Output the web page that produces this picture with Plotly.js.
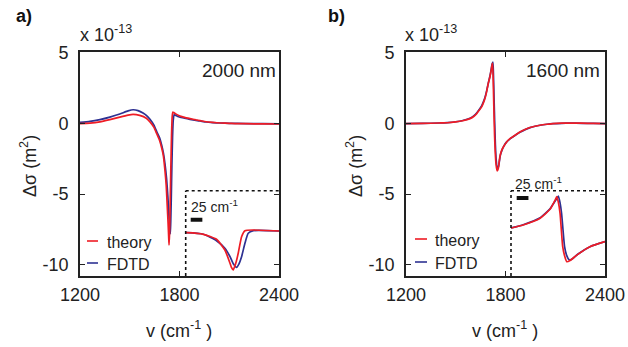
<!DOCTYPE html>
<html>
<head>
<meta charset="utf-8">
<script src="https://cdn.plot.ly/plotly-3.0.1.min.js"></script>
<style>html,body{margin:0;padding:0;background:#fff}#plot{width:628px;height:347px}</style>
</head>
<body>
<div id="plot"></div>
<script>
// ---------- Panel a (2000 nm) main curves ----------
const aTheoryX = [1200,1260,1320,1380,1440,1490,1520,1560,1600,1622,1645,1662,1680,1693,1703,1713,1720,1726,1731,1735,1737,1740,1744,1748,1752,1756,1760,1765,1780,1803,1830,1863,1900,1924,1960,2000,2050,2100,2135,2200,2300,2400];
const aTheoryY = [0.0,0.03,0.12,0.28,0.46,0.6,0.65,0.58,0.38,0.12,-0.25,-0.7,-1.2,-1.75,-2.3,-3.4,-4.4,-5.8,-7.0,-8.1,-8.6,-7.8,-5.5,-3.0,-0.8,0.5,0.82,0.78,0.67,0.54,0.44,0.35,0.26,0.21,0.13,0.08,0.04,0.02,0.0,-0.01,-0.02,-0.03];
const aFdtdX = [1200,1260,1320,1380,1440,1490,1520,1550,1580,1600,1622,1645,1662,1680,1693,1703,1713,1722,1730,1736,1741,1744.5,1747,1750,1754,1758,1762,1768,1775,1790,1803,1830,1863,1900,1924,1960,2000,2044,2100,2200,2300,2400];
const aFdtdY = [0.08,0.15,0.28,0.46,0.68,0.9,0.98,0.92,0.75,0.58,0.3,-0.1,-0.55,-1.0,-1.55,-2.1,-2.9,-3.9,-5.2,-6.5,-7.5,-7.8,-7.0,-5.5,-3.0,-1.0,0.2,0.62,0.6,0.5,0.45,0.38,0.3,0.22,0.18,0.11,0.07,0.04,0.02,0.0,-0.01,-0.02];

// ---------- Panel b (1600 nm) main curves ----------
const bTheoryX = [1200,1300,1400,1450,1500,1542,1586,1610,1626,1645,1656,1666,1676,1686,1696,1706,1714,1719,1722,1726,1730,1734,1738,1743,1750,1756,1762,1767,1777,1787,1807,1827,1857,1887,1918,1948,1978,2008,2050,2086,2140,2189,2260,2330,2400];
const bTheoryY = [0.0,0.01,0.04,0.06,0.12,0.2,0.35,0.52,0.7,1.0,1.18,1.45,1.77,2.25,2.84,3.3,3.8,4.15,4.26,3.0,1.0,-0.8,-2.0,-2.9,-3.36,-3.2,-2.7,-2.3,-1.9,-1.66,-1.3,-1.07,-0.83,-0.6,-0.42,-0.28,-0.19,-0.12,-0.05,0.0,0.03,0.04,0.03,0.01,0.0];
const bFdtdX = [1200,1300,1400,1450,1500,1542,1586,1610,1626,1645,1656,1666,1676,1686,1696,1706,1714,1719,1724,1727,1731,1735,1739,1744,1749,1753,1758,1764,1770,1780,1790,1807,1827,1857,1887,1918,1948,1978,2008,2050,2086,2140,2189,2260,2330,2400];
const bFdtdY = [0.0,0.01,0.04,0.07,0.13,0.22,0.38,0.56,0.75,1.05,1.25,1.52,1.85,2.3,2.85,3.35,3.85,4.2,4.35,3.6,1.8,0.0,-1.5,-2.6,-3.1,-3.2,-3.05,-2.6,-2.2,-1.85,-1.6,-1.3,-1.08,-0.84,-0.62,-0.43,-0.29,-0.19,-0.12,-0.05,-0.01,0.02,0.03,0.02,0.01,0.0];

// ---------- Insets (relative cm^-1, arbitrary units) ----------
const aInsetTheoryX = [0,2,38,66,84,95,98,102,105.5,108.7,112.6,119.8,127,145,200];
const aInsetTheoryY = [0,0,-0.043,-0.177,-0.464,-0.82,-0.93,-1.0,-0.89,-0.76,-0.55,-0.107,0.054,0.072,0.046];
const aInsetFdtdX = [0,2,38,66,84,95,102.3,109.1,114,119.8,127,134,145,200];
const aInsetFdtdY = [0,0,-0.043,-0.214,-0.418,-0.643,-0.84,-0.928,-0.84,-0.643,-0.284,-0.016,0.054,0.046];
const bInsetTheoryX = [0,26,62,83,94,97.3,101,104.4,110,114,118.6,125.7,140,168,200];
const bInsetTheoryY = [0.126,0.206,0.386,0.627,0.877,0.965,0.8,0.52,-0.375,-0.62,-0.777,-0.745,-0.6,-0.375,-0.24];
const bInsetFdtdX = [0,26,62,83,96,100.7,104.4,107.6,114,118.2,124.2,130,142.7,168,200];
const bInsetFdtdY = [0.126,0.215,0.4,0.64,0.89,0.984,0.8,0.52,-0.375,-0.6,-0.73,-0.705,-0.57,-0.375,-0.24];

const xTicks = [1200, 1800, 2400];
const yTicks = [-10, -5, 0, 5];
const seriesNames = ['theory', 'FDTD'];

const RED = '#ee1c25', BLUE = '#2e3192';
const FONT = 'Liberation Sans, Arial, sans-serif';
const W = 628, H = 347;
const px = v => v / W;
const py = v => 1 - v / H;

function tr(x, y, color, xa, ya, name) {
  return {x, y, type: 'scatter', mode: 'lines', line: {color, width: 1.7, shape: 'spline', smoothing: 0.5},
          xaxis: xa, yaxis: ya, name, showlegend: false, hoverinfo: 'skip'};
}
const data = [
  tr(aFdtdX, aFdtdY, BLUE, 'x', 'y', seriesNames[1]),
  tr(aTheoryX, aTheoryY, RED, 'x', 'y', seriesNames[0]),
  tr(bFdtdX, bFdtdY, BLUE, 'x2', 'y2', seriesNames[1]),
  tr(bTheoryX, bTheoryY, RED, 'x2', 'y2', seriesNames[0]),
  tr(aInsetFdtdX, aInsetFdtdY, BLUE, 'x3', 'y3', seriesNames[1]),
  tr(aInsetTheoryX, aInsetTheoryY, RED, 'x3', 'y3', seriesNames[0]),
  tr(bInsetFdtdX, bInsetFdtdY, BLUE, 'x4', 'y4', seriesNames[1]),
  tr(bInsetTheoryX, bInsetTheoryY, RED, 'x4', 'y4', seriesNames[0])
];

const mainY = [py(276), py(52.3)];
const insetY = [py(276), py(190.7)];
const aDom = [px(80), px(279)];
const bDom = [px(406), px(605)];
const aInsDom = [px(185.7), px(279)];
const bInsDom = [px(511), px(605)];

function xax(dom, anchor) {
  return {domain: dom, anchor, range: [1200, 2400], tickvals: xTicks, ticktext: xTicks.map(String),
    ticks: 'inside', ticklen: 5, tickwidth: 1, tickcolor: '#222', showline: true, linecolor: '#222', linewidth: 1.6,
    mirror: 'ticks', showgrid: false, zeroline: false, ticklabelstandoff: 2,
    tickfont: {family: FONT, size: 18, color: '#222'}};
}
function yax(dom, anchor) {
  return {domain: dom, anchor, range: [-10.8, 5.05], tickvals: yTicks, ticktext: yTicks.map(String),
    ticks: 'inside', ticklen: 5, tickwidth: 1, tickcolor: '#222', showline: true, linecolor: '#222', linewidth: 1.6,
    mirror: 'ticks', showgrid: false, zeroline: false, ticklabelstandoff: 6,
    tickfont: {family: FONT, size: 18, color: '#222'}};
}
function hid(dom, anchor, range) {
  return {domain: dom, anchor, range, visible: false, showgrid: false, zeroline: false, fixedrange: true};
}
function note(text, x, y, xanchor, size, extra) {
  return Object.assign({text, xref: 'paper', yref: 'paper', x: px(x), y: py(y), xanchor, yanchor: 'middle',
    showarrow: false, font: {family: FONT, size, color: '#222'}}, extra || {});
}

const layout = {
  width: W, height: H, autosize: false,
  margin: {l: 0, r: 0, t: 0, b: 0, pad: 0},
  paper_bgcolor: '#fff', plot_bgcolor: 'rgba(0,0,0,0)',
  showlegend: false,
  font: {family: FONT, color: '#222'},
  xaxis: xax(aDom, 'y'), yaxis: yax(mainY, 'x'),
  xaxis2: xax(bDom, 'y2'), yaxis2: yax(mainY, 'x2'),
  xaxis3: hid(aInsDom, 'y3', [0, 200]), yaxis3: hid(insetY, 'x3', [-1.161, 1.126]),
  xaxis4: hid(bInsDom, 'y4', [0, 200]), yaxis4: hid(insetY, 'x4', [-1.161, 1.126]),
  shapes: [
    {type: 'line', xref: 'paper', yref: 'paper', x0: px(185.7), x1: px(185.7), y0: insetY[0], y1: insetY[1], line: {color: '#111', width: 1.6, dash: 'dot'}},
    {type: 'line', xref: 'paper', yref: 'paper', x0: px(185.7), x1: px(279), y0: insetY[1], y1: insetY[1], line: {color: '#111', width: 1.6, dash: 'dot'}},
    {type: 'line', xref: 'paper', yref: 'paper', x0: px(511), x1: px(511), y0: insetY[0], y1: insetY[1], line: {color: '#111', width: 1.6, dash: 'dot'}},
    {type: 'line', xref: 'paper', yref: 'paper', x0: px(511), x1: px(605), y0: insetY[1], y1: insetY[1], line: {color: '#111', width: 1.6, dash: 'dot'}},
    {type: 'rect', xref: 'x3', yref: 'y3', x0: 10.7, x1: 35.7, y0: 0.295, y1: 0.402, fillcolor: '#111', line: {width: 0}},
    {type: 'rect', xref: 'x4', yref: 'y4', x0: 12.1, x1: 37.1, y0: 0.877, y1: 0.984, fillcolor: '#111', line: {width: 0}},
    {type: 'line', xref: 'paper', yref: 'paper', x0: px(87), x1: px(98), y0: py(241), y1: py(241), line: {color: RED, width: 1.6}},
    {type: 'line', xref: 'paper', yref: 'paper', x0: px(87), x1: px(98), y0: py(263), y1: py(263), line: {color: BLUE, width: 1.6}},
    {type: 'line', xref: 'paper', yref: 'paper', x0: px(415), x1: px(427), y0: py(239), y1: py(239), line: {color: RED, width: 1.6}},
    {type: 'line', xref: 'paper', yref: 'paper', x0: px(415), x1: px(427), y0: py(262), y1: py(262), line: {color: BLUE, width: 1.6}}
  ],
  annotations: [
    note('<b>a)</b>', 14, 16, 'left', 18, {font: {family: FONT, size: 18, color: '#111'}}),
    note('<b>b)</b>', 326, 16, 'left', 18, {font: {family: FONT, size: 18, color: '#111'}}),
    note('x 10<sup>-13</sup>', 78, 47, 'left', 18, {yanchor: 'bottom'}),
    note('x 10<sup>-13</sup>', 403, 47, 'left', 18, {yanchor: 'bottom'}),
    note('2000 nm', 278, 70, 'right', 19),
    note('1600 nm', 602, 70, 'right', 19),
    note(seriesNames[0], 105, 242, 'left', 16),
    note(seriesNames[1], 105, 264, 'left', 16),
    note(seriesNames[0], 433, 240, 'left', 16),
    note(seriesNames[1], 433, 263, 'left', 16),
    note('25 cm<sup>-1</sup>', 189, 206, 'left', 14),
    note('25 cm<sup>-1</sup>', 513, 183, 'left', 14),
    note('Δσ (m<sup>2</sup>)', 29, 166, 'center', 18, {textangle: -90}),
    note('Δσ (m<sup>2</sup>)', 355, 166, 'center', 18, {textangle: -90}),
    note('v (cm<sup>-1</sup> )', 179, 329, 'center', 18),
    note('v (cm<sup>-1</sup> )', 505, 329, 'center', 18)
  ]
};

Plotly.newPlot('plot', data, layout, {displayModeBar: false});
</script>
</body>
</html>
